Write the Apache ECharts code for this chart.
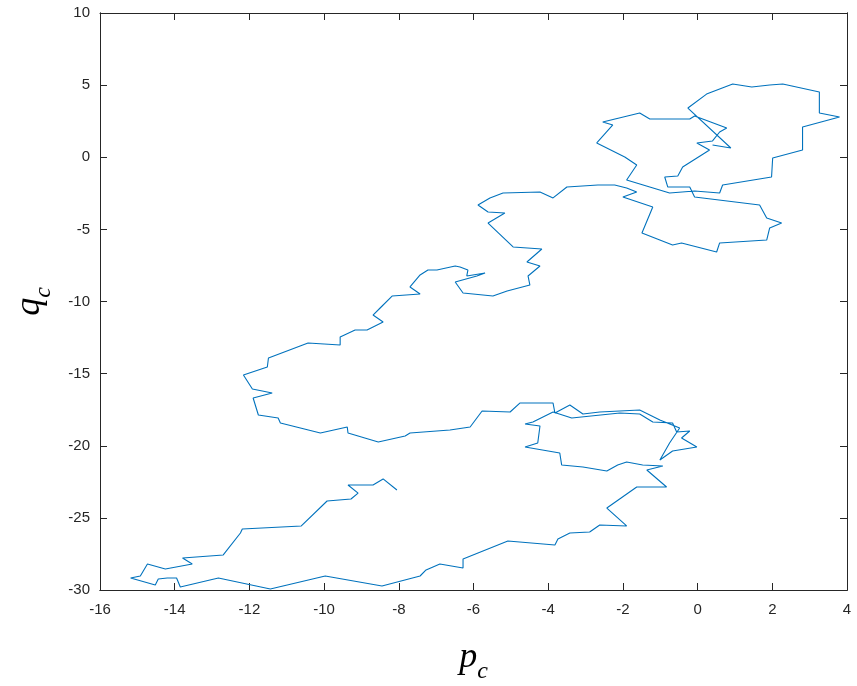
<!DOCTYPE html>
<html>
<head>
<meta charset="utf-8">
<script src="https://cdn.jsdelivr.net/npm/echarts@6/dist/echarts.min.js"></script>
<style>
html,body{margin:0;padding:0;background:#fff;}
#chart{width:857px;height:686px;}
</style>
</head>
<body>
<div id="chart"></div>
<script>
// trajectory values (p_c, q_c)
const pc = [-8.05,-8.42,-8.69,-9.36,-9.09,-9.28,-9.92,-10.61,-12.19,-12.24,-12.70,-13.79,-13.53,-14.25,-14.73,-14.92,-15.18,-14.52,-14.44,-14.20,-13.95,-13.85,-12.83,-11.44,-9.97,-8.45,-7.43,-7.27,-6.90,-6.28,-6.28,-5.08,-3.82,-3.74,-3.42,-2.89,-2.62,-1.90,-2.43,-1.63,-0.83,-1.36,-0.93,
-1.47,-1.90,-2.14,-2.43,-3.07,-3.64,-3.69,-4.62,-4.28,-4.22,-4.62,-4.41,-3.87,-3.37,-2.08,-1.55,-1.20,-0.67,-0.56,-0.21,-0.43,-0.02,-0.67,-1.01,-0.75,-0.48,-1.01,-1.55,-2.62,-3.07,-3.42,-3.82,-3.87,-4.76,-5.02,-5.77,-6.09,-6.63,-7.70,-7.83,-8.55,-9.36,-9.38,-10.10,-11.17,-11.23,-11.76,-11.90,-11.39,-11.92,-12.16,-11.52,-11.49,-10.43,-9.57,-9.57,-9.17,-8.85,-8.42,-8.69,-8.50,-8.18,-7.43,-7.70,-7.43,-7.22,-6.98,-6.49,-6.36,-6.15,-6.18,-5.69,-5.91,-6.49,-6.28,-5.48,-5.10,-4.49,-4.54,-4.22,-4.57,-4.17,-4.94,-5.61,-5.16,-5.61,-5.88,-5.56,-5.21,-4.22,-3.87,-3.50,-2.67,-2.22,-1.90,-1.63,-2.00,-1.20,-1.49,-0.67,-0.43,0.51,0.59,1.85,1.93,2.25,1.85,1.66,-0.08,-0.21,-0.80,-0.88,-0.53,-0.40,0.32,-0.02,0.40,0.59,0.78,-0.08,-0.21,-1.28,-1.55,-2.54,-2.27,-2.70,-1.95,-1.63,-1.90,-0.75,-0.08,0.59,0.67,1.98,2.01,2.81,2.81,3.80,3.26,3.26,2.28,1.93,1.45,0.94,0.24,-0.26,0.89,0.40];
const qc = [-23.07,-22.30,-22.72,-22.72,-23.28,-23.69,-23.83,-25.56,-25.77,-26.05,-27.57,-27.78,-28.20,-28.54,-28.20,-29.03,-29.17,-29.65,-29.24,-29.17,-29.17,-29.79,-29.17,-29.93,-29.03,-29.72,-29.03,-28.61,-28.20,-28.47,-27.85,-26.60,-26.88,-26.46,-26.05,-25.98,-25.49,-25.56,-24.32,-22.86,-22.86,-21.68,-21.40,
-21.33,-21.13,-21.33,-21.75,-21.47,-21.33,-20.50,-20.09,-19.81,-18.63,-18.49,-18.35,-17.66,-18.08,-17.73,-17.80,-18.35,-18.42,-19.05,-18.98,-19.46,-20.09,-20.36,-20.99,-19.81,-18.77,-18.21,-17.52,-17.66,-17.80,-17.18,-17.73,-17.04,-17.04,-17.66,-17.59,-18.70,-18.91,-19.12,-19.32,-19.74,-19.12,-18.70,-19.12,-18.42,-18.08,-17.87,-16.69,-16.34,-16.07,-15.10,-14.54,-13.92,-12.88,-13.02,-12.46,-11.98,-11.98,-11.42,-10.94,-10.45,-9.62,-9.48,-8.99,-8.16,-7.82,-7.82,-7.54,-7.61,-7.82,-8.23,-8.02,-8.23,-8.65,-9.41,-9.62,-9.27,-8.86,-8.23,-7.54,-7.26,-6.36,-6.22,-4.56,-3.86,-3.80,-3.31,-2.82,-2.48,-2.41,-2.82,-2.06,-1.92,-1.92,-2.13,-2.41,-2.76,-3.45,-5.25,-6.08,-5.94,-6.57,-5.94,-5.74,-4.90,-4.56,-4.21,-3.31,-2.76,-2.06,-2.06,-1.37,-1.30,-0.68,0.50,0.99,1.13,1.75,2.03,2.86,2.65,2.65,3.07,2.44,2.24,0.99,0.02,-0.54,-1.58,-2.48,-2.34,-2.48,-1.92,-1.37,-0.05,0.50,2.10,2.79,3.07,4.52,5.08,5.01,4.87,5.08,4.38,3.41,0.64,0.85];

const xTicks = {min: -16, max: 4, step: 2};
const yTicks = {min: -30, max: 10, step: 5};

const pts = pc.map((v, i) => [v, qc[i]]);

const chart = echarts.init(document.getElementById('chart'), null, {renderer: 'canvas'});
const tickColor = '#262626';
const labelFont = () => ({color: tickColor, fontSize: 15, fontFamily: 'Liberation Sans, Arial, sans-serif'});
const nameRich = () => ({
  v: {fontFamily: 'Liberation Serif, DejaVu Serif, serif', fontStyle: 'italic', fontSize: 36, color: '#000', verticalAlign: 'bottom'},
  s: {fontFamily: 'Liberation Serif, DejaVu Serif, serif', fontStyle: 'italic', fontSize: 24, color: '#000', verticalAlign: 'bottom', padding: [0,0,-8,0]}
});
const axisLineStyle = () => ({show: true, onZero: false, lineStyle: {color: tickColor, width: 1}});
const tickIn = () => ({show: true, inside: true, length: 7, lineStyle: {color: tickColor, width: 1}});
// helper axis that only carries inward ticks
const xTickAxis = (pos) => ({
  type: 'value', position: pos, min: xTicks.min, max: xTicks.max, interval: xTicks.step,
  axisLine: axisLineStyle(), axisTick: tickIn(),
  splitLine: {show: false}, axisLabel: {show: false}
});
const yTickAxis = (pos) => ({
  type: 'value', position: pos, min: yTicks.min, max: yTicks.max, interval: yTicks.step,
  axisLine: axisLineStyle(), axisTick: tickIn(),
  splitLine: {show: false}, axisLabel: {show: false}
});
chart.setOption({
  animation: false,
  backgroundColor: '#fff',
  grid: {left: 100, top: 13, right: 10, bottom: 96, containLabel: false, outerBoundsMode: 'none'},
  xAxis: [{
    type: 'value', position: 'bottom', min: xTicks.min, max: xTicks.max, interval: xTicks.step,
    axisLine: axisLineStyle(), axisTick: tickIn(),
    splitLine: {show: false},
    axisLabel: Object.assign({margin: 12}, labelFont()),
    name: '{v|p}{s|c}', nameLocation: 'middle', nameGap: 50,
    nameTextStyle: {rich: nameRich()}
  }, xTickAxis('top'), xTickAxis('bottom')],
  yAxis: [{
    type: 'value', position: 'left', min: yTicks.min, max: yTicks.max, interval: yTicks.step,
    axisLine: axisLineStyle(), axisTick: tickIn(),
    splitLine: {show: false},
    axisLabel: Object.assign({margin: 10}, labelFont()),
    name: '{v|q}{s|c}', nameLocation: 'middle', nameGap: 52,
    nameTextStyle: {rich: nameRich()}
  }, yTickAxis('right'), yTickAxis('left'), yTickAxis('right')],
  series: [{
    type: 'line', data: pts, showSymbol: false, symbol: 'none',
    xAxisIndex: 0, yAxisIndex: 0,
    lineStyle: {color: '#0072BD', width: 1.1},
    clip: true
  }]
});
</script>
</body>
</html>
